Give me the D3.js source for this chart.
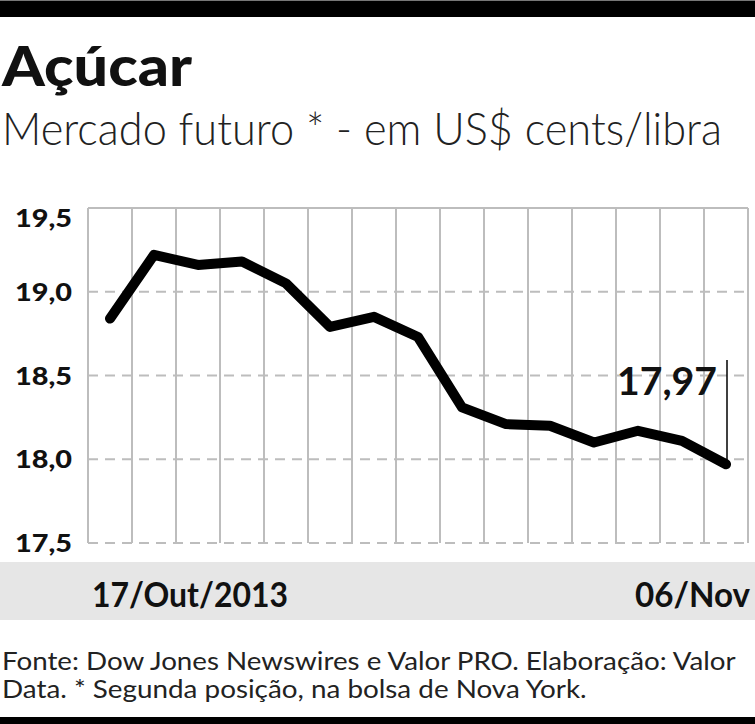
<!DOCTYPE html>
<html>
<head>
<meta charset="utf-8">
<script src="https://cdn.jsdelivr.net/npm/d3@7"></script>
<style>
  body { margin: 0; background: #fff; }
  svg { display: block; }
  text { font-family: Lato, sans-serif; fill: #111; }
</style>
</head>
<body>
<svg id="chart" width="755" height="724"></svg>
<script>
// pregao dates, 17/out to 06/nov 2013
const dates = ['17/10', '18/10', '21/10', '22/10', '23/10', '24/10', '25/10', '28/10',
  '29/10', '30/10', '31/10', '01/11', '04/11', '05/11', '06/11']
const prices = [18.84, 19.22, 19.16, 19.18, 19.05, 18.79, 18.85, 18.73,
  18.31, 18.21, 18.20, 18.10, 18.17, 18.11, 17.97]
const yTicks = [17.5, 18.0, 18.5, 19.0, 19.5]
const xLabels = ['17/Out/2013', '06/Nov']
const lastLabel = '17,97'

const svg = d3.select('#chart')
const W = 755, H = 724
const plotLeft = 88, plotRight = 748, plotTop = 208, plotBottom = 543

const fmt = d3.formatLocale({ decimal: ',', thousands: '.', grouping: [3], currency: ['US$', ''] }).format('.1f')

const x = d3.scalePoint().domain(dates).range([plotLeft, plotRight]).padding(0.5)
const y = d3.scaleLinear().domain([17.5, 19.5]).range([plotBottom, plotTop])
const step = x.step()

// squeeze a text horizontally to a given width (the paper uses a condensed face)
function fit(sel, tx, ty, width) {
  sel.attr('x', 0).attr('y', 0)
  const len = sel.node().getComputedTextLength()
  sel.attr('transform', `translate(${tx},${ty}) scale(${width / len},1)`)
  return sel
}

// black bars top/bottom
svg.append('rect').attr('x', 0).attr('y', 0).attr('width', W).attr('height', 1).attr('fill', '#777')
svg.append('rect').attr('x', 0).attr('y', 1).attr('width', W).attr('height', 16).attr('fill', '#000')
svg.append('rect').attr('x', 0).attr('y', 717).attr('width', W).attr('height', 7).attr('fill', '#000')

// title
fit(svg.append('text').attr('font-weight', 900).attr('font-size', 55).text('Açúcar'), 2, 86, 190)
fit(svg.append('text').attr('font-weight', 300).attr('font-size', 46)
  .style('fill', '#222').text('Mercado futuro * - em US$ cents/libra'), 2, 145, 720)

// grid
const grid = svg.append('g')
const vLines = dates.map(d => x(d) - step / 2).concat([x(dates[dates.length - 1]) + step / 2])
grid.selectAll('line.v').data(vLines).join('line')
  .attr('class', 'v')
  .attr('x1', d => d).attr('x2', d => d)
  .attr('y1', plotTop).attr('y2', plotBottom)
  .attr('stroke', '#bdbdbd').attr('stroke-width', 2)
grid.selectAll('line.h').data(yTicks).join('line')
  .attr('class', 'h')
  .attr('x1', plotLeft).attr('x2', plotRight)
  .attr('y1', d => y(d)).attr('y2', d => y(d))
  .attr('stroke', '#bdbdbd').attr('stroke-width', 2)
  .attr('stroke-dasharray', d => d === 19.5 ? null : '10,7')

// y labels
svg.selectAll('text.ytick').data(yTicks).join('text')
  .attr('class', 'ytick')
  .attr('font-weight', 900).attr('font-size', 25)
  .text(d => fmt(d))
  .each(function(d) {
    fit(d3.select(this), 15, d === 19.5 ? y(d) + 19 : y(d) + 9, 57)
  })

// line
const line = d3.line().x((d, i) => x(dates[i])).y(d => y(d))
svg.append('path').datum(prices)
  .attr('d', line)
  .attr('fill', 'none').attr('stroke', '#000').attr('stroke-width', 10)
  .attr('stroke-linejoin', 'round').attr('stroke-linecap', 'round')

// last value callout
const lx = x(dates[dates.length - 1])
const ly = y(prices[prices.length - 1])
svg.append('line').attr('x1', lx + 1).attr('x2', lx + 1).attr('y1', 360).attr('y2', ly)
  .attr('stroke', '#000').attr('stroke-width', 1.5)
fit(svg.append('text').attr('font-weight', 700).attr('font-size', 39).text(lastLabel), lx - 109, 395, 100)

// x band + labels
svg.append('rect').attr('x', 0).attr('y', 562).attr('width', W).attr('height', 58).attr('fill', '#e6e6e6')
fit(svg.append('text').attr('font-weight', 700).attr('font-size', 35).text(xLabels[0]),
  x(dates[0]) - step / 2 + 4, 607, 196)
fit(svg.append('text').attr('font-weight', 700).attr('font-size', 35).text(xLabels[1]),
  x(dates[dates.length - 1]) + step / 2 - 113, 607, 115)

// footer
fit(svg.append('text').attr('font-size', 25).style('fill', '#222')
  .text('Fonte: Dow Jones Newswires e Valor PRO. Elaboração: Valor'), 2, 670, 734)
fit(svg.append('text').attr('font-size', 25).style('fill', '#222')
  .text('Data. * Segunda posição, na bolsa de Nova York.'), 2, 698, 585)
</script>
</body>
</html>
